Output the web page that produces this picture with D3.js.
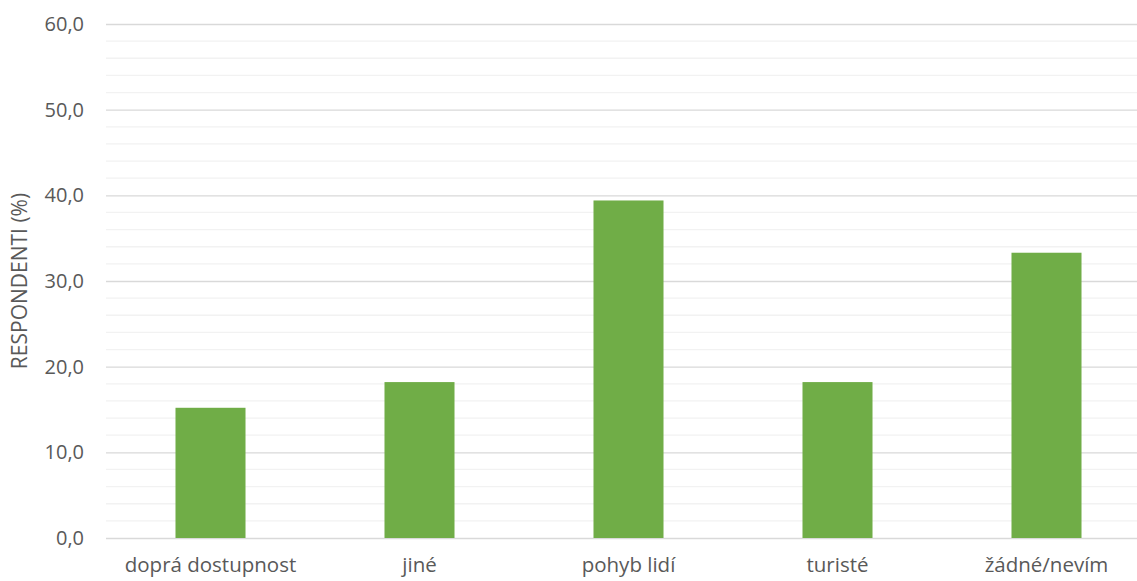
<!DOCTYPE html>
<html>
<head>
    <meta charset="utf-8">
    <style>
        body { margin: 0; background: #fff; }
        svg { display: block; }
        svg text { font-family: 'Open Sans', 'Noto Sans', sans-serif; }
        .y .domain, .x .domain { display: none; }
        .tick text { fill: #595959; }
    </style>
</head>
<body>
    <svg width="1137" height="581"></svg>

<script src="https://d3js.org/d3.v7.min.js"></script>
<script>
    // categories and shares of respondents (%)
    let categories = ["doprá dostupnost", "jiné", "pohyb lidí", "turisté", "žádné/nevím"]
    let values = [15.2, 18.2, 39.4, 18.2, 33.3]
    let majorTicks = [0, 10, 20, 30, 40, 50, 60]
    let minorTicks = d3.range(0, 61, 2)

    let svg = d3.select("svg")
    let margin = { top: 24, right: -14, bottom: 43, left: 106 }
    let width = 1137, height = 581

    let x = d3.scaleBand()
        .domain(categories)
        .range([margin.left, width - margin.right])
        .paddingInner(0.665)
        .paddingOuter(0.3325)

    let y = d3.scaleLinear()
        .domain([0, 60])
        .range([height - margin.bottom, margin.top])

    // minor gridlines
    svg.append("g")
        .selectAll("line")
        .data(minorTicks.filter(d => d % 10 != 0))
        .join("line")
        .attr("x1", margin.left)
        .attr("x2", width - margin.right)
        .attr("y1", d => y(d))
        .attr("y2", d => y(d))
        .style("stroke", "#f2f2f2")
        .style("stroke-width", 1.3)

    // major gridlines + labels
    let yAxis = svg.append("g")
        .attr("class", "y axis")
        .attr("transform", `translate(${margin.left},0)`)
        .call(d3.axisLeft(y)
            .tickValues(majorTicks)
            .tickSize(-(width - margin.right - margin.left))
            .tickPadding(22)
            .tickFormat(d => d3.format(".1f")(d).replace(".", ",")))
    yAxis.selectAll(".tick line").style("stroke", "#d9d9d9").style("stroke-width", 1.3)
    yAxis.selectAll(".tick text").style("font-size", "20px")

    svg.append("g")
        .selectAll("rect")
        .data(values)
        .join("rect")
        .attr("x", (d, i) => x(categories[i]))
        .attr("width", x.bandwidth())
        .attr("y", d => y(d))
        .attr("height", d => y(0) - y(d))
        .style("fill", "#70ad47")

    let xAxis = svg.append("g")
        .attr("class", "x axis")
        .attr("transform", `translate(0,${height - margin.bottom})`)
        .call(d3.axisBottom(x).tickSize(0).tickPadding(19))
    xAxis.selectAll(".tick text").style("font-size", "20.5px")

    svg.append("text")
        .attr("transform", `translate(20,${(y(0) + y(60)) / 2}) rotate(-90)`)
        .attr("text-anchor", "middle")
        .attr("dy", "0.35em")
        .style("font-size", "21px")
        .style("fill", "#595959")
        .text("RESPONDENTI (%)")
</script>
</body>
</html>
